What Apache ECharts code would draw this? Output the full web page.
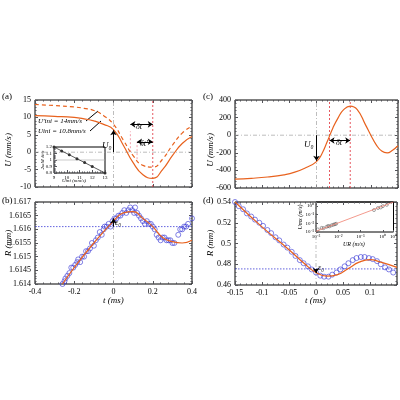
<!DOCTYPE html>
<html><head><meta charset="utf-8">
<script src="https://cdn.jsdelivr.net/npm/echarts@6/dist/echarts.min.js"></script>
<style>body{margin:0}#c{width:400px;height:400px}</style></head>
<body><div id="c"></div>
<script>
// (a) 速度曲线
var aSolid = [[-0.4,10.5],[-0.3,10.3],[-0.2,10],[-0.15,9.6],[-0.1,9],[-0.05,8],[0,6.5],[0.05,2],[0.1,-3],[0.15,-6.5],[0.2,-7.5],[0.25,-5],[0.3,-1],[0.35,2.5],[0.4,4.5]]
var aDash = [[-0.4,13.7],[-0.3,13.4],[-0.2,13],[-0.15,12.6],[-0.1,12],[-0.05,10.5],[0,8],[0.05,3.5],[0.1,-1],[0.15,-3.8],[0.2,-4.3],[0.25,-2],[0.3,2],[0.35,5.5],[0.4,7.5]]
var insetX = [9,9.6,10.2,10.8,11.4,12,13]
var insetY = [1.2,1.14,1.08,1.02,0.96,0.9,0.8]
// (b) 半径
var bFit = [[-0.26,1.614],[-0.2,1.6146],[-0.1,1.6155],[0,1.6163],[0.05,1.6166],[0.1,1.61665],[0.15,1.6164],[0.2,1.6161],[0.25,1.6157],[0.3,1.61555],[0.35,1.6155],[0.4,1.6156]]
var bPts = [[-0.26,1.614],[-0.25,1.6141],[-0.245,1.6142],[-0.235,1.6143],[-0.225,1.6144],[-0.215,1.6146],[-0.205,1.6146],[-0.195,1.6147],[-0.185,1.6148],[-0.18,1.6149],[-0.17,1.6148],[-0.16,1.615],[-0.15,1.615],[-0.14,1.6152],[-0.13,1.6152],[-0.12,1.6153],[-0.11,1.6155],[-0.1,1.6154],[-0.09,1.6156],[-0.08,1.6157],[-0.07,1.6159],[-0.06,1.6158],[-0.05,1.616],[-0.045,1.6161],[-0.035,1.6161],[-0.025,1.6162],[-0.015,1.6161],[-0.005,1.6163],[0.005,1.6164],[0.015,1.6164],[0.025,1.6165],[0.035,1.6165],[0.045,1.6166],[0.055,1.6167],[0.065,1.6166],[0.075,1.6167],[0.085,1.6168],[0.095,1.6167],[0.105,1.6166],[0.11,1.6168],[0.12,1.6166],[0.13,1.6165],[0.14,1.6164],[0.15,1.6163],[0.16,1.6162],[0.17,1.6163],[0.18,1.6162],[0.19,1.6162],[0.2,1.6161],[0.21,1.616],[0.22,1.6158],[0.23,1.6157],[0.24,1.6156],[0.25,1.6157],[0.26,1.6157],[0.27,1.6156],[0.28,1.6156],[0.29,1.6156],[0.3,1.6155],[0.31,1.6155],[0.33,1.6158],[0.34,1.616],[0.35,1.616],[0.36,1.6161],[0.37,1.6161],[0.38,1.6162],[0.4,1.6164]]
// (c)
var cLine = [[-0.15,-500],[-0.12,-490],[-0.09,-475],[-0.06,-450],[-0.04,-420],[-0.02,-370],[0,-300],[0.01,-210],[0.02,-70],[0.03,80],[0.04,200],[0.05,290],[0.062,330],[0.075,290],[0.09,120],[0.1,0],[0.11,-110],[0.12,-180],[0.13,-200],[0.14,-170],[0.15,-120]]
// (d)
var dFit = [[-0.15,0.54],[-0.1,0.516],[-0.05,0.494],[-0.02,0.48],[0,0.472],[0.02,0.4685],[0.04,0.47],[0.06,0.476],[0.08,0.482],[0.1,0.4845],[0.12,0.482],[0.15,0.477]]
var dPts = [[-0.15,0.54],[-0.143,0.536],[-0.135,0.533],[-0.128,0.529],[-0.12,0.526],[-0.113,0.523],[-0.105,0.52],[-0.098,0.517],[-0.09,0.513],[-0.083,0.51],[-0.075,0.506],[-0.068,0.503],[-0.06,0.499],[-0.053,0.496],[-0.045,0.492],[-0.038,0.488],[-0.03,0.484],[-0.023,0.481],[-0.015,0.478],[-0.008,0.475],[0,0.472],[0.008,0.469],[0.015,0.468],[0.023,0.468],[0.03,0.47],[0.038,0.472],[0.045,0.475],[0.053,0.478],[0.06,0.481],[0.068,0.484],[0.075,0.486],[0.083,0.487],[0.09,0.487],[0.098,0.486],[0.105,0.485],[0.113,0.483],[0.12,0.48],[0.128,0.477],[0.135,0.475],[0.143,0.472]]
var dInsetPts = [[0.0012,0.002],[0.0018,0.003],[0.0022,0.0028],[0.003,0.004],[0.0035,0.005],[0.004,0.0045],[0.005,0.006],[0.006,0.007],[0.007,0.008],[0.008,0.009],[0.4,0.35],[0.6,0.6],[0.8,0.7],[1.0,1.0],[1.5,1.4]]
var dInsetLine = [[0.001,0.0012],[3,3]]

var OR = '#e8621e', BL = '#3b3bd6', SERIF = 'Liberation Serif'
function grid(l, t, w, h) { return {left: l, top: t, width: w, height: h, show: true, borderColor: '#000', borderWidth: 1, backgroundColor: 'transparent'} }
function xa(gi, min, max, itv, showLab, fmt, fs) {
	return {type: 'value', gridIndex: gi, min: min, max: max, interval: itv, splitLine: {show: false},
		axisLine: {show: false, onZero: false}, axisTick: {inside: true, length: 3}, minorTick: {show: true, length: 1.5, splitNumber: 5},
		axisLabel: {show: showLab, fontFamily: SERIF, fontSize: fs || 8, color: '#000', margin: fs ? 2 : 4, formatter: fmt}}
}
function ya(gi, min, max, itv, fmt, fs) { return xa(gi, min, max, itv, true, fmt, fs) }
// 对边刻度（无标签）
function mirror(gi, min, max, itv, pos) {
	var o = xa(gi, min, max, itv, false)
	o.position = pos
	return o
}
var sup = {'-': '⁻', '0': '⁰', '1': '¹', '2': '²', '3': '³'}
function logFmt(v) { var e = Math.round(Math.log10(v)); return '10' + String(e).split('').map(function(c) { return sup[c] }).join('') }
function logAxis(gi, min, max) {
	return {type: 'log', gridIndex: gi, min: min, max: max, splitLine: {show: false}, axisLine: {show: false, onZero: false},
		axisTick: {inside: true, length: 2}, axisLabel: {fontFamily: SERIF, fontSize: 5, color: '#000', margin: 2, formatter: logFmt}}
}
var gray = {color: '#a0a0a0', type: [4, 2, 1, 2], width: 0.7}
var redDash = {color: '#e0303a', type: [2, 2], width: 0.8}
var pinkDash = {color: '#f08a9a', type: [2, 2], width: 0.8}
var blueDot = {color: BL, type: [1.5, 1.5], width: 0.8}
var arrowLine = {color: '#000', width: 1, type: 'solid'}
// 参考线：两点线段
function seg(gi, p1, p2, style) {
	return {type: 'line', xAxisIndex: gi, yAxisIndex: gi, data: [p1, p2], symbol: 'none', silent: true, lineStyle: style, z: 1}
}
function ml(lines, style, symbol) {
	return {silent: true, symbol: symbol || ['none', 'none'], symbolSize: 5, label: {show: false}, lineStyle: style,
		emphasis: {disabled: true},
		data: lines.map(function(p) { return [{coord: p[0], lineStyle: style}, {coord: p[1]}] })}
}
var fmtD = function(v) { return Math.abs(v - 0.15) < 1e-6 ? '' : +v.toFixed(2) }
var circ = {color: 'rgba(0,0,0,0)', borderColor: BL, borderWidth: 0.8}

var option = {
	animation: false,
	grid: [grid(35, 100, 157, 87), grid(35, 202, 157, 82), grid(235, 100, 163, 88), grid(235, 202, 163, 83), grid(54, 147, 51, 26), grid(316, 202, 78, 30)],
	xAxis: [xa(0, -0.4, 0.4, 0.2, false), xa(1, -0.4, 0.4, 0.2, true), xa(2, -0.15, 0.15, 0.05, false), xa(3, -0.15, 0.15, 0.05, true, fmtD),
		xa(4, 9, 13, 1, true, null, 5), logAxis(5, 0.001, 3),
		mirror(0, -0.4, 0.4, 0.2, 'top'), mirror(1, -0.4, 0.4, 0.2, 'top'), mirror(2, -0.15, 0.15, 0.05, 'top'), mirror(3, -0.15, 0.15, 0.05, 'top')],
	yAxis: [ya(0, -10, 15, 5), ya(1, 1.614, 1.617, 0.0005, function(v) { return +v.toFixed(4) }), ya(2, -600, 400, 200), ya(3, 0.46, 0.54, 0.02, function(v) { return +v.toFixed(2) }),
		ya(4, 0.8, 1.2, 0.1, function(v) { return +v.toFixed(1) }, 5), logAxis(5, 0.001, 3),
		mirror(0, -10, 15, 5, 'right'), mirror(1, 1.614, 1.617, 0.0005, 'right'), mirror(2, -600, 400, 200, 'right'), mirror(3, 0.46, 0.54, 0.02, 'right')],
	series: [
		seg(0, [0, -10], [0, 15], gray), seg(0, [-0.4, 0], [0.4, 0], gray),
		seg(0, [0.2, -10], [0.2, 15], redDash), seg(0, [0.086, 0], [0.086, 6], pinkDash), seg(0, [0.12, -2], [0.12, 3], pinkDash),
		{type: 'line', xAxisIndex: 0, yAxisIndex: 0, data: aSolid, smooth: true, symbol: 'none', lineStyle: {color: OR, width: 1.2}},
		{type: 'line', xAxisIndex: 0, yAxisIndex: 0, data: aDash, smooth: true, symbol: 'none', lineStyle: {color: OR, width: 1.2, type: [4, 3]}},
		{type: 'line', xAxisIndex: 0, yAxisIndex: 0, data: [], markLine: ml([[[0, 0], [0, 6.3]]], arrowLine, ['none', 'arrow'])},
		{type: 'line', xAxisIndex: 0, yAxisIndex: 0, data: [], markLine: ml([[[0.086, 8], [0.2, 8]], [[0.12, 3], [0.2, 3]]], arrowLine, ['arrow', 'arrow'])},
		seg(4, [9, 1], [13, 1], {color: '#aaa', type: 'solid', width: 0.6}),
		{type: 'line', xAxisIndex: 4, yAxisIndex: 4, data: insetX.map(function(x, i) { return [x, insetY[i]] }), symbol: 'circle', symbolSize: 3,
			itemStyle: {color: '#333'}, lineStyle: {color: '#333', width: 0.8}},
		seg(1, [0, 1.614], [0, 1.617], gray), seg(1, [-0.4, 1.6161], [0.4, 1.6161], blueDot),
		{type: 'scatter', xAxisIndex: 1, yAxisIndex: 1, data: bPts, symbol: 'circle', symbolSize: 5, itemStyle: circ},
		{type: 'line', xAxisIndex: 1, yAxisIndex: 1, data: bFit, smooth: true, symbol: 'none', lineStyle: {color: OR, width: 1.2}},
		{type: 'line', xAxisIndex: 1, yAxisIndex: 1, data: [], markLine: ml([[[0, 1.6161], [0, 1.6164]]], arrowLine, ['none', 'arrow'])},
		seg(2, [0, -600], [0, 400], gray), seg(2, [-0.15, 0], [0.15, 0], gray),
		seg(2, [0.024, -600], [0.024, 400], redDash), seg(2, [0.062, -600], [0.062, 400], redDash),
		{type: 'line', xAxisIndex: 2, yAxisIndex: 2, data: cLine, smooth: true, symbol: 'none', lineStyle: {color: OR, width: 1.2}},
		{type: 'line', xAxisIndex: 2, yAxisIndex: 2, data: [], markLine: ml([[[0, 0], [0, -290]]], arrowLine, ['none', 'arrow'])},
		{type: 'line', xAxisIndex: 2, yAxisIndex: 2, data: [], markLine: ml([[[0.024, -60], [0.062, -60]]], arrowLine, ['arrow', 'arrow'])},
		seg(3, [0, 0.46], [0, 0.54], gray), seg(3, [-0.15, 0.4755], [0.15, 0.4755], blueDot),
		{type: 'scatter', xAxisIndex: 3, yAxisIndex: 3, data: dPts, symbol: 'circle', symbolSize: 5, itemStyle: circ},
		{type: 'line', xAxisIndex: 3, yAxisIndex: 3, data: dFit, smooth: true, symbol: 'none', lineStyle: {color: OR, width: 1.2}},
		{type: 'line', xAxisIndex: 3, yAxisIndex: 3, data: [], markLine: ml([[[0, 0.4755], [0, 0.4715]]], arrowLine, ['none', 'arrow'])},
		{type: 'line', xAxisIndex: 5, yAxisIndex: 5, data: dInsetLine, symbol: 'none', lineStyle: {color: '#f08070', width: 0.8}},
		{type: 'scatter', xAxisIndex: 5, yAxisIndex: 5, data: dInsetPts, symbol: 'circle', symbolSize: 3, itemStyle: {color: 'rgba(0,0,0,0)', borderColor: '#444', borderWidth: 0.6}}
	],
	graphic: [
		{type: 'text', left: 2, top: 92, style: {text: '(a)', font: '9px ' + SERIF}},
		{type: 'text', left: 2, top: 196, style: {text: '(b)', font: '9px ' + SERIF}},
		{type: 'text', left: 203, top: 92, style: {text: '(c)', font: '9px ' + SERIF}},
		{type: 'text', left: 203, top: 196, style: {text: '(d)', font: '9px ' + SERIF}},
		{type: 'text', x: 9, y: 150, rotation: Math.PI / 2, style: {text: 'U (mm/s)', font: 'italic 9px ' + SERIF, align: 'center', verticalAlign: 'middle'}},
		{type: 'text', x: 9, y: 243, rotation: Math.PI / 2, style: {text: 'R (mm)', font: 'italic 9px ' + SERIF, align: 'center', verticalAlign: 'middle'}},
		{type: 'text', x: 211, y: 150, rotation: Math.PI / 2, style: {text: 'U (mm/s)', font: 'italic 9px ' + SERIF, align: 'center', verticalAlign: 'middle'}},
		{type: 'text', x: 211, y: 243, rotation: Math.PI / 2, style: {text: 'R (mm)', font: 'italic 9px ' + SERIF, align: 'center', verticalAlign: 'middle'}},
		{type: 'text', left: 103, top: 296, style: {text: 't (ms)', font: 'italic 9px ' + SERIF}},
		{type: 'text', left: 305, top: 296, style: {text: 't (ms)', font: 'italic 9px ' + SERIF}},
		{type: 'text', left: 38, top: 118, style: {text: "U'ini = 14mm/s", font: 'italic 7px ' + SERIF}},
		{type: 'text', left: 38, top: 128, style: {text: 'Uini = 10.8mm/s', font: 'italic 7px ' + SERIF}},
		{type: 'line', shape: {x1: 86, y1: 121, x2: 98, y2: 111}, style: {stroke: '#000', lineWidth: 1}},
		{type: 'line', shape: {x1: 90, y1: 131, x2: 101, y2: 121}, style: {stroke: '#000', lineWidth: 1}},
		{type: 'text', left: 102, top: 141, style: {text: 'U₀', font: 'italic 9px ' + SERIF}},
		{type: 'text', left: 136, top: 123, style: {text: 'δt', font: 'italic 8px ' + SERIF}},
		{type: 'text', left: 140, top: 140, style: {text: "δt'", font: 'italic 8px ' + SERIF}},
		{type: 'text', left: 62, top: 178, style: {text: 'Uini (mm/s)', font: 'italic 5px ' + SERIF}},
		{type: 'text', x: 43, y: 160, rotation: Math.PI / 2, style: {text: '2ωM δt/π', font: 'italic 5px ' + SERIF, align: 'center', verticalAlign: 'middle'}},
		{type: 'text', left: 115, top: 219, style: {text: 'ε₀', font: 'italic 8px ' + SERIF}},
		{type: 'text', left: 304, top: 140, style: {text: 'U₀', font: 'italic 9px ' + SERIF}},
		{type: 'text', left: 336, top: 139, style: {text: 'δt', font: 'italic 8px ' + SERIF}},
		{type: 'text', left: 318, top: 264, style: {text: 'ε₀', font: 'italic 8px ' + SERIF}},
		{type: 'text', left: 343, top: 241, style: {text: 'UR (m/s)', font: 'italic 6px ' + SERIF}},
		{type: 'text', x: 300, y: 217, rotation: Math.PI / 2, style: {text: 'Umx (m/s)', font: 'italic 6px ' + SERIF, align: 'center', verticalAlign: 'middle'}}
	]
}
echarts.init(document.getElementById('c')).setOption(option)
</script></body></html>
